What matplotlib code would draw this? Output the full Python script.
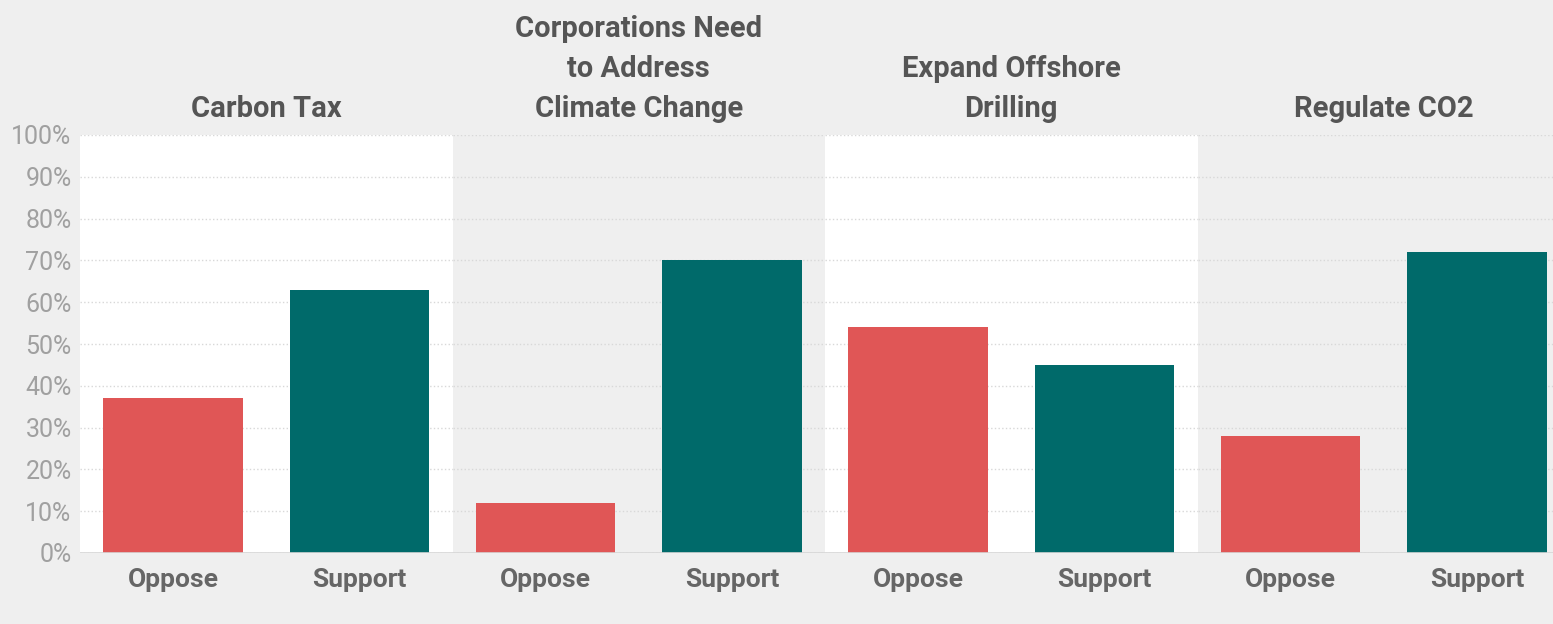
import matplotlib.pyplot as plt
from matplotlib.ticker import PercentFormatter

titles = ["Carbon Tax", "Corporations Need\nto Address\nClimate Change",
          "Expand Offshore\nDrilling", "Regulate CO2"]
categories = ["Oppose", "Support"]
oppose = [37, 12, 54, 28]
support = [63, 70, 45, 72]

bg = "#efefef"
red = "#e05656"
teal = "#006a6a"

plt.rcParams['font.family'] = ['Roboto', 'DejaVu Sans']

fig = plt.figure(figsize=(15.53, 6.24), dpi=100, facecolor=bg)

W, H = 1553, 624
left0 = 80
pw = 372.5
bottom = (H - 553) / H
height = 418 / H

for i, title in enumerate(titles):
    ax = fig.add_axes([(left0 + i * pw) / W, bottom, pw / W, height])
    ax.set_facecolor("white" if i % 2 == 0 else bg)
    vals = [oppose[i], support[i]]
    ax.bar([0, 1], vals, width=0.75, color=[red, teal], zorder=3)
    ax.set_xlim(-0.5, 1.5)
    ax.set_ylim(0, 100)
    ax.set_yticks(range(0, 101, 10))
    ax.yaxis.grid(True, linestyle=":", color="#d8d8d8", linewidth=1, zorder=0)
    ax.axhline(0, color="#d6d6d6", linewidth=1.2, zorder=4)
    for s in ax.spines.values():
        s.set_visible(False)
    ax.set_xticks([0, 1])
    ax.set_xticklabels(categories, fontsize=19, fontweight="bold", color="#666666")
    ax.tick_params(axis="x", length=0, pad=11)
    if i == 0:
        ax.yaxis.set_major_formatter(PercentFormatter(decimals=0))
        ax.tick_params(axis="y", length=0, labelsize=18, labelcolor="#a0a0a0", pad=6)
    else:
        ax.tick_params(axis="y", length=0, labelleft=False)
    ax.set_title(title, fontsize=21, fontweight="bold", color="#555555",
                 pad=13, linespacing=1.55)

fig.savefig("out.png", dpi=100, facecolor=bg)
